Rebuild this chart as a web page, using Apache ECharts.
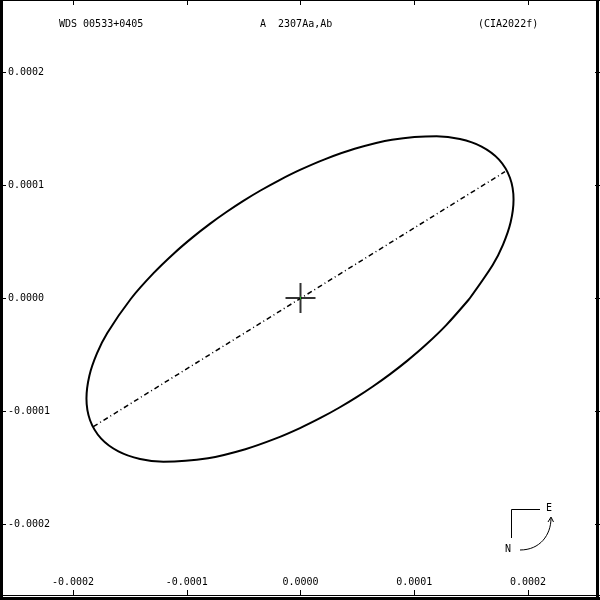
<!DOCTYPE html>
<html>
<head>
<meta charset="utf-8">
<script src="https://cdn.jsdelivr.net/npm/echarts@6/dist/echarts.min.js"></script>
<style>html,body{margin:0;padding:0;background:#fff}#c{width:600px;height:600px}</style>
</head>
<body>
<div id="c"></div>
<script>
// Axis ticks (arcsec)
const tickValues = [-0.0002, -0.0001, 0.0000, 0.0001, 0.0002];
// Titles
const titleLeft = 'WDS 00533+0405';
const titleMid = 'A  2307Aa,Ab';
const titleRight = '(CIA2022f)';
// Apparent orbit (arcsec)
const orbitX = [0.00014837,0.00012833,0.00011018,0.00009374,0.00007851,0.00006391,0.00004937,0.00003428,0.00001796,-0.00000044,-0.00002209,-0.00004850,-0.00008128,-0.00012050,-0.00014104,-0.00016008,-0.00017541,-0.00018501,-0.00018817,-0.00018561,-0.00017894,-0.00016985,
  -0.00014925,-0.00012921,-0.00011106,-0.00009462,-0.00007939,-0.00006479,-0.00005025,-0.00003516,-0.00001884,-0.00000044,0.00002121,0.00004762,0.00008040,0.00011962,0.00014016,0.00015920,0.00017453,0.00018413,0.00018729,0.00018473,0.00017806,0.00016897,0.00014837];
const orbitY = [-0.00000088,-0.00002373,-0.00004141,-0.00005563,-0.00006758,-0.00007808,-0.00008773,-0.00009691,-0.00010596,-0.00011513,-0.00012450,-0.00013382,-0.00014183,-0.00014490,-0.00014242,-0.00013573,-0.00012421,-0.00010816,-0.00008900,-0.00006873,-0.00004903,-0.00003095,
  -0.00000088,0.00002196,0.00003964,0.00005386,0.00006581,0.00007631,0.00008596,0.00009514,0.00010419,0.00011336,0.00012273,0.00013205,0.00014006,0.00014313,0.00014065,0.00013396,0.00012244,0.00010639,0.00008723,0.00006696,0.00004726,0.00002918,-0.00000088];
// Line of nodes (arcsec)
const nodesX = [-0.00018215, 0.00017978];
const nodesY = [-0.00011389, 0.00011177];
// Primary star position
const primary = [0, 0];

const FONT = 'DejaVu Sans Mono';
const axisMin = tickValues[0], axisMax = tickValues[tickValues.length-1], step = 0.0001;
const fmt = v => (Math.abs(v) < 1e-12 ? 0 : v).toFixed(4);

const chart = echarts.init(document.getElementById('c'), null, {renderer:'canvas'});
const baseAxis = {
  type:'value', min:axisMin, max:axisMax, interval:step,
  axisLine:{show:false, onZero:false}, splitLine:{show:false},
  axisTick:{show:true, inside:true, length:6, lineStyle:{color:'#000', width:1}}
};
chart.setOption({
  animation:false,
  backgroundColor:'#fff',
  grid:{left:73, right:72, top:72, bottom:76},
  xAxis:[
    Object.assign({}, baseAxis, {position:'bottom', offset:72,
      axisLabel:{show:true, inside:true, margin:9, color:'#000', fontFamily:FONT, fontSize:10, formatter:fmt}}),
    Object.assign({}, baseAxis, {position:'top', offset:72, axisTick:{show:true, inside:true, length:5, lineStyle:{color:'#000'}}, axisLabel:{show:false}})
  ],
  yAxis:[
    Object.assign({}, baseAxis, {position:'left', offset:73,
      axisLabel:{show:true, inside:true, margin:8, color:'#000', fontFamily:FONT, fontSize:10, formatter:fmt}}),
    Object.assign({}, baseAxis, {position:'right', offset:72, axisTick:{show:true, inside:true, length:5, lineStyle:{color:'#000'}}, axisLabel:{show:false}})
  ],
  series:[
    {type:'line', name:'orbit', data:orbitX.map((x,i)=>[x,orbitY[i]]), showSymbol:false, smooth:0.3,
     lineStyle:{color:'#000', width:2}, clip:false, silent:true},
    {type:'line', name:'nodes', data:nodesX.map((x,i)=>[x,nodesY[i]]), showSymbol:false,
     lineStyle:{color:'#000', width:1.5, type:[5,3,1,3]}, clip:false, silent:true},
    {type:'scatter', name:'primary', data:[primary], symbol:'path://M14,0h2v30h-2z M0,14h30v2h-30z', symbolSize:30,
     itemStyle:{color:'#000'}, silent:true, z:5},
    {type:'scatter', name:'dot', data:[primary], symbol:'rect', symbolSize:[1,3], itemStyle:{color:'#22cc22'}, silent:true, z:6}
  ],
  graphic:[
    {type:'text', left:59, top:19, style:{text:titleLeft, font:'10px "DejaVu Sans Mono"', fill:'#000'}},
    {type:'text', left:260, top:19, style:{text:titleMid, font:'10px "DejaVu Sans Mono"', fill:'#000'}},
    {type:'text', left:478, top:19, style:{text:titleRight, font:'10px "DejaVu Sans Mono"', fill:'#000'}},
    // frame
    {type:'rect', shape:{x:0,y:0,width:3,height:600}, style:{fill:'#000'}},
    {type:'rect', shape:{x:596,y:0,width:3,height:600}, style:{fill:'#000'}},
    {type:'rect', shape:{x:0,y:0,width:600,height:1}, style:{fill:'#000'}},
    {type:'rect', shape:{x:0,y:595,width:600,height:1}, style:{fill:'#000'}},
    {type:'rect', shape:{x:0,y:597,width:600,height:3}, style:{fill:'#000'}},
    // compass
    {type:'polyline', shape:{points:[[540,509.5],[511.5,509.5],[511.5,538]]}, style:{stroke:'#000', lineWidth:1, fill:null}},
    {type:'text', x:546, y:503, style:{text:'E', font:'10px "DejaVu Sans Mono"', fill:'#000'}},
    {type:'text', x:505, y:544, style:{text:'N', font:'10px "DejaVu Sans Mono"', fill:'#000'}},
    {type:'bezierCurve', shape:{x1:520,y1:550,cpx1:540,cpy1:550,cpx2:551,cpy2:535,x2:551,y2:518}, style:{stroke:'#000', lineWidth:1, fill:null}},
    {type:'polyline', shape:{points:[[548,522],[551,517],[553.5,522]]}, style:{stroke:'#000', lineWidth:1, fill:null}}
  ]
});
</script>
</body>
</html>
